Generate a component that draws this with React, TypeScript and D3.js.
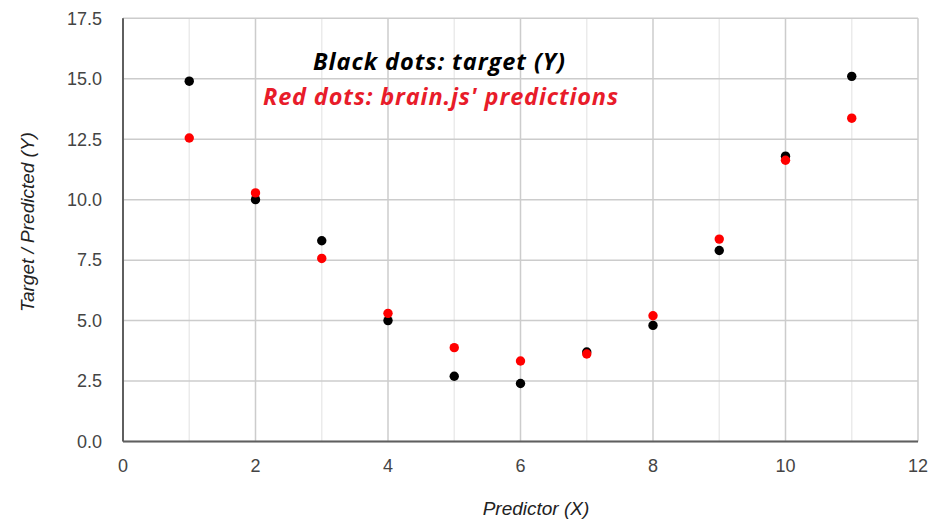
import { useEffect, useRef } from "react";
import * as d3 from "d3";

// data
const predictorX = [1, 2, 3, 4, 5, 6, 7, 8, 9, 10, 11];
const targetY = [14.9, 10.0, 8.3, 5.0, 2.7, 2.4, 3.7, 4.8, 7.9, 11.8, 15.1];
const predictedY = [12.55, 10.28, 7.57, 5.3, 3.88, 3.33, 3.62, 5.2, 8.37, 11.63, 13.37];

const xTicks = [0, 2, 4, 6, 8, 10, 12];
const xMinorTicks = [1, 3, 5, 7, 9, 11];
const yTicks = [0, 2.5, 5, 7.5, 10, 12.5, 15, 17.5];

const WIDTH = 933;
const HEIGHT = 524;
const margin = { top: 18.3, right: 15, bottom: 82.5, left: 123 };

const COLORS = {
  target: "#000000",
  predicted: "#ff0000",
  label: "#e81c2a",
  gridMajor: "#cccccc",
  gridMinor: "#ebebeb",
  axis: "#5f5f5f",
  tick: "#444444",
  title: "#222222",
};

export default function App() {
  const svgRef = useRef<SVGSVGElement>(null);

  useEffect(() => {
    if (!svgRef.current) return;
    const svg = d3.select(svgRef.current);
    svg.selectAll("*").remove();

    const innerWidth = WIDTH - margin.left - margin.right;
    const innerHeight = HEIGHT - margin.top - margin.bottom;

    const x = d3.scaleLinear().domain([0, 12]).range([0, innerWidth]);
    const y = d3.scaleLinear().domain([0, 17.5]).range([innerHeight, 0]);

    const g = svg.append("g").attr("transform", `translate(${margin.left},${margin.top})`);

    // grid
    g.selectAll("line.minor-x")
      .data(xMinorTicks)
      .join("line")
      .attr("x1", (d) => x(d)).attr("x2", (d) => x(d))
      .attr("y1", 0).attr("y2", innerHeight)
      .attr("stroke", COLORS.gridMinor)
      .attr("stroke-width", 1.5);

    g.selectAll("line.grid-y")
      .data(yTicks)
      .join("line")
      .attr("x1", 0).attr("x2", innerWidth)
      .attr("y1", (d) => y(d)).attr("y2", (d) => y(d))
      .attr("stroke", COLORS.gridMajor)
      .attr("stroke-width", 1.5);

    g.selectAll("line.major-x")
      .data(xTicks)
      .join("line")
      .attr("x1", (d) => x(d)).attr("x2", (d) => x(d))
      .attr("y1", 0).attr("y2", innerHeight)
      .attr("stroke", COLORS.gridMajor)
      .attr("stroke-width", 1.5);

    // axes
    g.append("line")
      .attr("x1", 0).attr("x2", 0).attr("y1", 0).attr("y2", innerHeight)
      .attr("stroke", COLORS.axis).attr("stroke-width", 2);
    g.append("line")
      .attr("x1", 0).attr("x2", innerWidth).attr("y1", innerHeight).attr("y2", innerHeight)
      .attr("stroke", COLORS.axis).attr("stroke-width", 2);

    // tick labels
    g.selectAll("text.ytick")
      .data(yTicks)
      .join("text")
      .attr("x", -21)
      .attr("y", (d) => y(d))
      .attr("dy", "0.35em")
      .attr("text-anchor", "end")
      .attr("font-family", "Arial, 'Liberation Sans', sans-serif")
      .attr("font-size", 18)
      .attr("fill", COLORS.tick)
      .text((d) => d.toFixed(1));

    g.selectAll("text.xtick")
      .data(xTicks)
      .join("text")
      .attr("x", (d) => x(d))
      .attr("y", innerHeight + 30.5)
      .attr("text-anchor", "middle")
      .attr("font-family", "Arial, 'Liberation Sans', sans-serif")
      .attr("font-size", 18)
      .attr("fill", COLORS.tick)
      .text((d) => String(d));

    // points
    g.selectAll("circle.target")
      .data(predictorX)
      .join("circle")
      .attr("cx", (d) => x(d))
      .attr("cy", (_, i) => y(targetY[i]))
      .attr("r", 4.7)
      .attr("fill", COLORS.target);

    g.selectAll("circle.pred")
      .data(predictorX)
      .join("circle")
      .attr("cx", (d) => x(d))
      .attr("cy", (_, i) => y(predictedY[i]))
      .attr("r", 4.7)
      .attr("fill", COLORS.predicted);

    // axis titles
    svg.append("text")
      .attr("x", 536)
      .attr("y", 515)
      .attr("text-anchor", "middle")
      .attr("font-family", "Arial, 'Liberation Sans', sans-serif")
      .attr("font-style", "italic")
      .attr("font-size", 19)
      .attr("fill", COLORS.title)
      .text("Predictor (X)");

    svg.append("text")
      .attr("transform", "translate(34,222) rotate(-90)")
      .attr("text-anchor", "middle")
      .attr("font-family", "Arial, 'Liberation Sans', sans-serif")
      .attr("font-style", "italic")
      .attr("font-size", 19)
      .attr("fill", COLORS.title)
      .text("Target / Predicted (Y)");

    // annotation labels
    svg.append("text")
      .attr("x", 439)
      .attr("y", 69.5)
      .attr("text-anchor", "middle")
      .attr("font-family", "'Open Sans', sans-serif")
      .attr("font-style", "italic")
      .attr("font-weight", 700)
      .attr("font-size", 23.5)
      .attr("textLength", 252)
      .attr("fill", "#000")
      .text("Black dots: target (Y)");

    svg.append("text")
      .attr("x", 440.5)
      .attr("y", 105)
      .attr("text-anchor", "middle")
      .attr("font-family", "'Open Sans', sans-serif")
      .attr("font-style", "italic")
      .attr("font-weight", 700)
      .attr("font-size", 23.5)
      .attr("textLength", 355)
      .attr("fill", COLORS.label)
      .text("Red dots: brain.js' predictions");
  }, []);

  return (
    <svg
      ref={svgRef}
      width={WIDTH}
      height={HEIGHT}
      style={{ position: "fixed", left: 0, top: 0, background: "#fff", display: "block" }}
    />
  );
}
